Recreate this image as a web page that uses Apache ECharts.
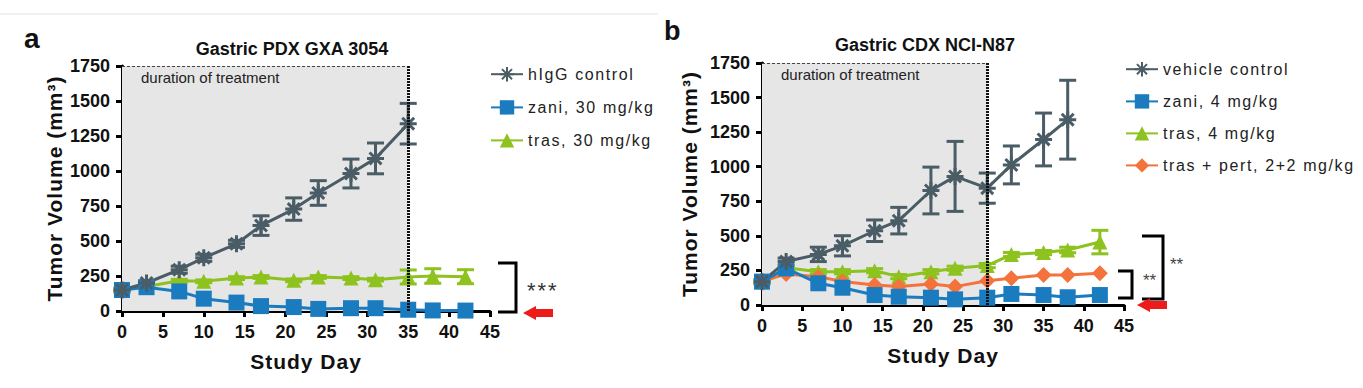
<!DOCTYPE html>
<html><head><meta charset="utf-8">
<script src="https://cdn.jsdelivr.net/npm/echarts@6/dist/echarts.min.js"></script>
<style>
html,body{margin:0;padding:0;background:#fff}
#c{width:1363px;height:388px}
#c svg text[style*="16px"]{letter-spacing:1.6px}
#c svg text[style*="21px"]{letter-spacing:1px}
#c svg text[style*="22px"]{letter-spacing:2px}
</style></head><body><div id="c"></div><script>
// ---------- data ----------
const daysA = [0, 3, 7, 10, 14, 17, 21, 24, 28, 31, 35, 38, 42];
const ctrlA = [150, 200, 295, 380, 480, 610, 728, 843, 982, 1090, 1338];
const ctrlAErr = [15, 15, 25, 25, 25, 70, 80, 88, 103, 110, 145];
const zaniA = [150, 170, 140, 88, 60, 35, 28, 15, 20, 20, 9, 4, 3];
const trasA = [150, 175, 216, 212, 235, 243, 219, 243, 235, 224, 243, 250, 245];
const trasAErr = [5, 8, 10, 10, 10, 10, 10, 10, 10, 10, 50, 52, 50];

const daysB = [0, 3, 7, 10, 14, 17, 21, 24, 28, 31, 35, 38, 42];
const ctrlB = [169, 314, 366, 428, 537, 610, 828, 930, 845, 1013, 1197, 1340];
const ctrlBErr = [15, 25, 52, 73, 78, 96, 169, 253, 109, 137, 191, 285];
const zaniB = [169, 265, 157, 125, 72, 60, 53, 41, 53, 80, 72, 56, 72];
const trasB = [169, 270, 241, 241, 248, 205, 241, 266, 285, 365, 379, 398, 455];
const trasBErr = [10, 15, 15, 15, 15, 15, 15, 15, 15, 15, 15, 20, 85];
const comboB = [169, 225, 205, 170, 145, 133, 152, 133, 176, 193, 217, 217, 229];

const namesA = ['hIgG control', 'zani, 30 mg/kg', 'tras, 30 mg/kg'];
const namesB = ['vehicle control', 'zani, 4 mg/kg', 'tras, 4 mg/kg', 'tras + pert, 2+2 mg/kg'];
const titles = ['Gastric PDX GXA 3054', 'Gastric CDX NCI-N87'];
const treatEnd = [35, 28];
const xTicks = {min: 0, max: 45, interval: 5};
const yTicks = {min: 0, max: 1750, interval: 250};

// ---------- styles ----------
const FONT = '"Liberation Sans", Arial, sans-serif';
const C_CTRL = '#4a5d66', C_ZANI = '#1b7bbf', C_TRAS = '#8dc21f', C_COMBO = '#f4733c';
const STAR = 'path://M10 0L10 20M0 10L20 10M3 3L17 17M17 3L3 17';

const pairs = (xs, ys) => ys.map((v, i) => [xs[i], v]);
const errData = (xs, ys, es) => ys.map((v, i) => [xs[i], v - es[i], v + es[i]]);

function errSeries(idx, xs, ys, es, color) {
  return {
    type: 'custom', xAxisIndex: idx, yAxisIndex: idx, z: 2, silent: true,
    data: errData(xs, ys, es),
    renderItem: function (params, api) {
      const x = api.value(0), lo = api.value(1), hi = api.value(2);
      const p1 = api.coord([x, hi]), p2 = api.coord([x, lo]);
      const w = 8.5, st = {stroke: color, lineWidth: 3};
      return {type: 'group', children: [
        {type: 'line', shape: {x1: p1[0], y1: p1[1], x2: p2[0], y2: p2[1]}, style: st},
        {type: 'line', shape: {x1: p1[0] - w, y1: p1[1], x2: p1[0] + w, y2: p1[1]}, style: st},
        {type: 'line', shape: {x1: p2[0] - w, y1: p2[1], x2: p2[0] + w, y2: p2[1]}, style: st}
      ]};
    }
  };
}

function lineSeries(idx, name, xs, ys, color, symbol, size, extra) {
  return Object.assign({
    type: 'line', name: name, xAxisIndex: idx, yAxisIndex: idx, z: 3,
    data: pairs(xs, ys), symbol: symbol, symbolSize: size,
    lineStyle: {color: color, width: 3},
    itemStyle: {color: color, borderColor: color, borderWidth: symbol === STAR ? 3 : 0},
    emphasis: {disabled: true}, animation: false
  }, extra || {});
}

function shadeSeries(idx) {
  const e = treatEnd[idx];
  return {
    type: 'line', xAxisIndex: idx, yAxisIndex: idx, data: [], z: 1, silent: true,
    markArea: {
      silent: true,
      itemStyle: {color: '#e6e6e6'},
      label: {show: true, position: 'insideTopLeft', formatter: 'duration of treatment',
        fontSize: 15, fontFamily: FONT, color: '#222', offset: [14, -1]},
      data: [[{coord: [0, yTicks.max]}, {coord: [e, 0]}]]
    },
    markLine: {
      silent: true, symbol: 'none', label: {show: false}, animation: false,
      data: [
        [{coord: [0, yTicks.max], lineStyle: {type: [3, 2], width: 1, color: '#444'}}, {coord: [e, yTicks.max]}],
        [{coord: [e, 0], lineStyle: {type: [2, 1], width: 3, color: '#111'}}, {coord: [e, yTicks.max]}]
      ]
    }
  };
}

const plain = v => String(v);

function xAxis(idx) {
  return {
    type: 'value', gridIndex: idx, min: xTicks.min, max: xTicks.max, interval: xTicks.interval,
    splitLine: {show: false},
    axisLine: {lineStyle: {color: '#000', width: 3}},
    axisTick: {length: 6, lineStyle: {width: 3, color: '#000'}},
    axisLabel: {fontSize: 18, fontWeight: 'bold', fontFamily: FONT, color: '#111', margin: 12, formatter: plain},
    name: 'Study Day', nameLocation: 'middle', nameGap: 40,
    nameTextStyle: {fontSize: 21, fontWeight: 'bold', fontFamily: FONT, color: '#111'}
  };
}
function yAxis(idx, gap) {
  return {
    type: 'value', gridIndex: idx, min: yTicks.min, max: yTicks.max, interval: yTicks.interval,
    splitLine: {show: false},
    axisLine: {show: true, lineStyle: {color: '#000', width: 3}},
    axisTick: {show: true, length: 6, lineStyle: {width: 3, color: '#000'}},
    axisLabel: {fontSize: 18, fontWeight: 'bold', fontFamily: FONT, color: '#111', margin: 12, formatter: plain},
    name: 'Tumor Volume (mm\u00b3)', nameLocation: 'middle', nameGap: gap,
    nameTextStyle: {fontSize: 21, fontWeight: 'bold', fontFamily: FONT, color: '#111'}
  };
}

const legendText = {fontSize: 16, fontFamily: FONT, color: '#222'};

function arrow(tipX, y) {
  return {type: 'polygon', silent: true,
    shape: {points: [[tipX, y], [tipX + 13, y - 7], [tipX + 13, y - 4], [tipX + 30, y - 4],
                     [tipX + 30, y + 4], [tipX + 13, y + 4], [tipX + 13, y + 7]]},
    style: {fill: '#ee1b1b'}};
}
function bracket(x1, x2, y1, y2) {
  return {type: 'polyline', silent: true,
    shape: {points: [[x1, y1], [x2, y1], [x2, y2], [x1, y2]]},
    style: {stroke: '#000', lineWidth: 3, fill: null}};
}

const chart = echarts.init(document.getElementById('c'), null, {renderer: 'svg'});
chart.setOption({
  animation: false,
  backgroundColor: '#fff',
  title: [
    {text: titles[0], left: 287, top: 35, textAlign: 'center',
     textStyle: {fontSize: 18, fontWeight: 'bold', fontFamily: FONT, color: '#111'}},
    {text: titles[1], left: 920, top: 31, textAlign: 'center',
     textStyle: {fontSize: 18, fontWeight: 'bold', fontFamily: FONT, color: '#111'}}
  ],
  grid: [
    {left: 122, top: 66, width: 368, height: 245},
    {left: 762, top: 63, width: 362, height: 242}
  ],
  xAxis: [xAxis(0), xAxis(1)],
  yAxis: [yAxis(0, 57), yAxis(1, 62)],
  legend: [
    {data: namesA, left: 485, top: 61, orient: 'vertical', itemWidth: 32, itemHeight: 18,
     itemGap: 17, textStyle: legendText, selectedMode: false},
    {data: namesB, left: 1120, top: 56, orient: 'vertical', itemWidth: 32, itemHeight: 18,
     itemGap: 16, textStyle: legendText, selectedMode: false}
  ],
  series: [
    shadeSeries(0),
    errSeries(0, daysA, ctrlA, ctrlAErr, C_CTRL),
    errSeries(0, daysA, trasA, trasAErr, C_TRAS),
    lineSeries(0, namesA[2], daysA, trasA, C_TRAS, 'triangle', 15),
    lineSeries(0, namesA[1], daysA, zaniA, C_ZANI, 'rect', 16),
    lineSeries(0, namesA[0], daysA, ctrlA, C_CTRL, STAR, 17),

    shadeSeries(1),
    errSeries(1, daysB, ctrlB, ctrlBErr, C_CTRL),
    errSeries(1, daysB, trasB, trasBErr, C_TRAS),
    lineSeries(1, namesB[2], daysB, trasB, C_TRAS, 'triangle', 15),
    lineSeries(1, namesB[3], daysB, comboB, C_COMBO, 'diamond', 16),
    lineSeries(1, namesB[1], daysB, zaniB, C_ZANI, 'rect', 16),
    lineSeries(1, namesB[0], daysB, ctrlB, C_CTRL, STAR, 17)
  ],
  graphic: [
    {type: 'line', silent: true, shape: {x1: 0, y1: 14, x2: 658, y2: 14}, style: {stroke: '#e3e3e3', lineWidth: 1}},
    {type: 'text', left: 24, top: 24, silent: true,
     style: {text: 'a', fontSize: 28, fontWeight: 'bold', fontFamily: FONT, fill: '#111'}},
    {type: 'text', left: 664, top: 17, silent: true,
     style: {text: 'b', fontSize: 27, fontWeight: 'bold', fontFamily: FONT, fill: '#111'}},
    bracket(498, 516, 263, 312),
    {type: 'text', left: 527, top: 279, silent: true,
     style: {text: '***', fontSize: 22, fontFamily: FONT, fill: '#333'}},
    arrow(523, 313),
    bracket(1142, 1163, 236, 299),
    bracket(1118, 1132, 271, 298),
    {type: 'text', left: 1170, top: 256, silent: true,
     style: {text: '**', fontSize: 17, fontFamily: FONT, fill: '#444'}},
    {type: 'text', left: 1143, top: 272, silent: true,
     style: {text: '**', fontSize: 17, fontFamily: FONT, fill: '#444'}},
    arrow(1137, 305)
  ]
});
</script></body></html>
